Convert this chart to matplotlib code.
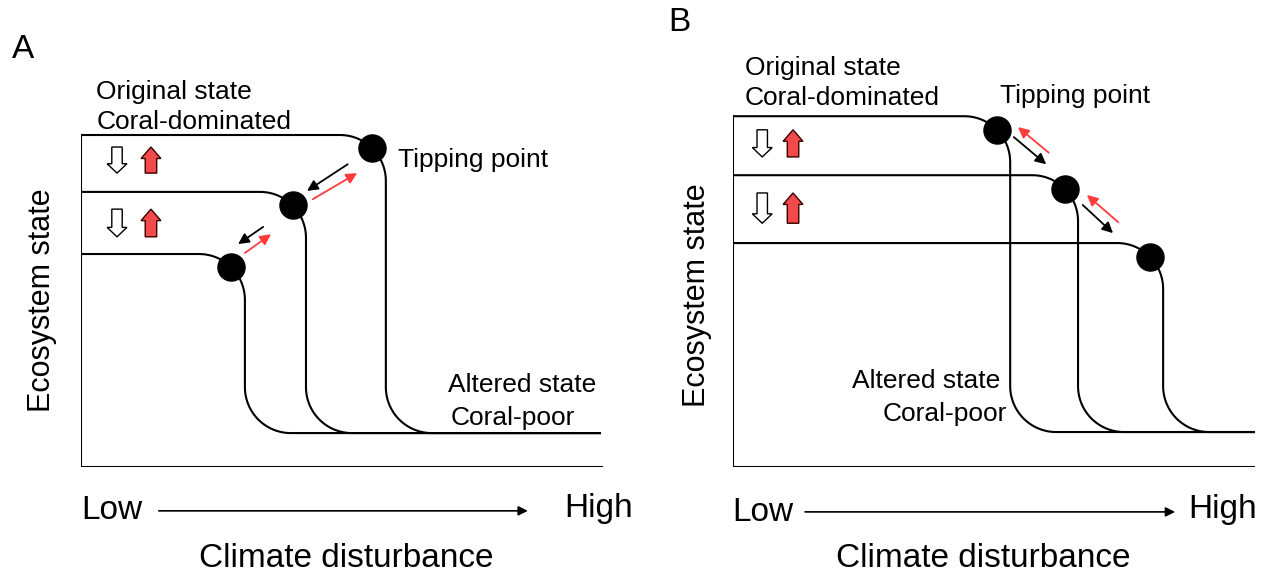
import numpy as np
import matplotlib.pyplot as plt
from matplotlib.patches import FancyArrow

plt.rcParams['font.family'] = ['Liberation Sans', 'DejaVu Sans']

# panel A: nested curves, tipping points move left (lower resilience)
a_levels = [6.36, 5.27, 4.08]
a_drops = [5.84, 4.31, 3.14]
a_low = 0.65
a_end = 9.96
a_arrows_black = [((5.11, 5.80), (4.33, 5.29)), ((3.49, 4.60), (3.01, 4.27))]
a_arrows_red = [((4.44, 5.13), (5.29, 5.63)), ((3.14, 4.10), (3.64, 4.46))]
a_block_y = [(6.13, 5.63), (4.94, 4.41)]
a_block_x = (0.69, 1.34)

# panel B: tipping points move right (higher resilience)
b_levels = [6.72, 5.59, 4.29]
b_drops = [5.31, 6.61, 8.24]
b_low = 0.67
b_end = 10.0
b_arrows_black = [((5.38, 6.32), (6.00, 5.80)), ((6.70, 5.02), (7.28, 4.48))]
b_arrows_red = [((6.05, 6.02), (5.46, 6.51)), ((7.38, 4.69), (6.78, 5.21))]
b_block_y = [(6.46, 5.94), (5.25, 4.67)]
b_block_x = (0.56, 1.15)

RADIUS = 0.88
RED = '#f24a4a'


def curve(level, xdrop, low, xend, r=RADIUS):
    t1 = np.linspace(np.pi / 2, 0, 40)
    t2 = np.linspace(np.pi, 1.5 * np.pi, 40)
    xs = np.concatenate([[0], xdrop - r + r * np.cos(t1), xdrop + r + r * np.cos(t2), [xend]])
    ys = np.concatenate([[level], level - r + r * np.sin(t1), low + r + r * np.sin(t2), [low]])
    return xs, ys


def panel(ax, levels, drops, low, xend, blacks, reds, block_y, block_x):
    for lev, xd in zip(levels, drops):
        xs, ys = curve(lev, xd, low, xend)
        ax.plot(xs, ys, color='black', lw=1.5, solid_capstyle='butt')
        cx, cy = xd - RADIUS, lev - RADIUS
        ax.plot(cx + RADIUS * np.cos(np.pi / 4), cy + RADIUS * np.sin(np.pi / 4),
                'o', color='black', ms=19.5, zorder=5)
    # axis lines
    ax.plot([0, 0], [0, max(levels)], color='black', lw=1.5)
    ax.plot([0, 10], [0, 0], color='black', lw=1.5)
    for (s, e) in blacks:
        ax.annotate('', xy=e, xytext=s,
                    arrowprops=dict(arrowstyle='-|>', color='black', lw=1.3, mutation_scale=16,
                                    shrinkA=0, shrinkB=0))
    for (s, e) in reds:
        ax.annotate('', xy=e, xytext=s,
                    arrowprops=dict(arrowstyle='-|>', color='#ff3b3b', lw=1.3, mutation_scale=16,
                                    shrinkA=0, shrinkB=0))
    for top, bot in block_y:
        ax.add_patch(FancyArrow(block_x[0], top, 0, bot - top, width=0.2, head_width=0.38,
                                head_length=0.18, length_includes_head=True,
                                fc='white', ec='black', lw=1))
        ax.add_patch(FancyArrow(block_x[1], bot, 0, top - bot, width=0.22, head_width=0.38,
                                head_length=0.22, length_includes_head=True,
                                fc=RED, ec='#3a0000', lw=1))
    ax.set_xlim(0, 10)
    ax.set_ylim(0, 372 / 52.2)
    ax.axis('off')


fig = plt.figure(figsize=(12.66, 5.75), dpi=100)
axA = fig.add_axes([81 / 1266, 108 / 575, 522 / 1266, 372 / 575])
axB = fig.add_axes([733 / 1266, 108 / 575, 522 / 1266, 372 / 575])

panel(axA, a_levels, a_drops, a_low, a_end, a_arrows_black, a_arrows_red, a_block_y, a_block_x)
panel(axB, b_levels, b_drops, b_low, b_end, b_arrows_black, b_arrows_red, b_block_y, b_block_x)

fs = 19
big = 24

# panel A text
axA.text(-1.32, 7.99, 'A', fontsize=big, va='center', ha='left')
axA.text(0.29, 7.18, 'Original state', fontsize=fs, va='center')
axA.text(0.29, 6.61, 'Coral-dominated', fontsize=fs, va='center')
axA.text(6.07, 5.88, 'Tipping point', fontsize=fs, va='center')
axA.text(7.03, 1.57, 'Altered state', fontsize=fs, va='center')
axA.text(7.09, 0.94, 'Coral-poor', fontsize=fs, va='center')
axA.text(-0.75, 3.2, 'Ecosystem state', fontsize=22, rotation=90, va='center', ha='center')
axA.text(0.0, -1.0, 'Low', fontsize=big, va='baseline', ha='left')
axA.text(10.57, -0.96, 'High', fontsize=big, va='baseline', ha='right')
axA.annotate('', xy=(8.56, -0.84), xytext=(1.49, -0.84), annotation_clip=False,
             arrowprops=dict(arrowstyle='-|>', color='black', lw=1.2, mutation_scale=14,
                             shrinkA=0, shrinkB=0))
axA.text(5.09, -1.92, 'Climate disturbance', fontsize=big, va='baseline', ha='center')

# panel B text
axB.text(-1.24, 8.52, 'B', fontsize=big, va='center', ha='left')
axB.text(0.23, 7.64, 'Original state', fontsize=fs, va='center')
axB.text(0.23, 7.07, 'Coral-dominated', fontsize=fs, va='center')
axB.text(5.11, 7.11, 'Tipping point', fontsize=fs, va='center')
axB.text(2.28, 1.65, 'Altered state', fontsize=fs, va='center')
axB.text(2.87, 1.02, 'Coral-poor', fontsize=fs, va='center')
axB.text(-0.69, 3.3, 'Ecosystem state', fontsize=22, rotation=90, va='center', ha='center')
axB.text(-0.02, -1.03, 'Low', fontsize=big, va='baseline', ha='left')
axB.text(10.04, -0.98, 'High', fontsize=big, va='baseline', ha='right')
axB.annotate('', xy=(8.47, -0.86), xytext=(1.38, -0.86), annotation_clip=False,
             arrowprops=dict(arrowstyle='-|>', color='black', lw=1.2, mutation_scale=14,
                             shrinkA=0, shrinkB=0))
axB.text(4.79, -1.92, 'Climate disturbance', fontsize=big, va='baseline', ha='center')

fig.savefig('out.png', dpi=100)
